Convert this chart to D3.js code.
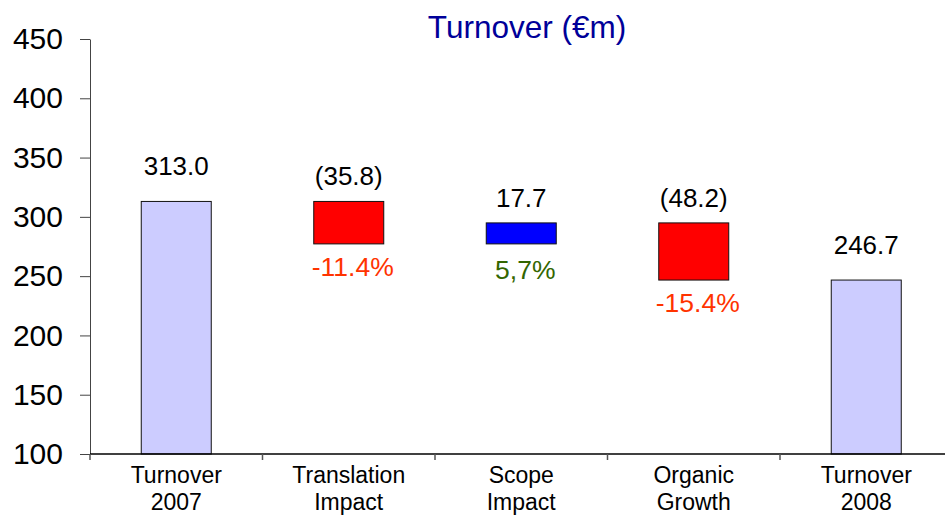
<!DOCTYPE html>
<html>
<head>
<meta charset="utf-8">
<script src="https://cdn.jsdelivr.net/npm/d3@7"></script>
<style>
  html, body { margin: 0; padding: 0; background: #fff; }
  svg { display: block; font-family: "Liberation Sans", Arial, sans-serif; }
</style>
</head>
<body>
<svg id="chart" width="945" height="515"></svg>
<script>
const categories = [["Turnover", "2007"], ["Translation", "Impact"], ["Scope", "Impact"], ["Organic", "Growth"], ["Turnover", "2008"]];
const values = [313.0, -35.8, 17.7, -48.2, 246.7];
const kinds = ["total", "delta", "delta", "delta", "total"];
const valueLabels = ["313.0", "(35.8)", "17.7", "(48.2)", "246.7"];
const pctLabels = [null, "-11.4%", "5,7%", "-15.4%", null];
const yTicks = [100, 150, 200, 250, 300, 350, 400, 450];
const titleText = "Turnover (€m)";

const svg = d3.select("#chart");
const x = d3.scaleBand().domain(d3.range(categories.length)).range([90, 952.5]).padding(0);
const y = d3.scaleLinear().domain([100, 450]).range([454, 39]);
const barW = 70;

// waterfall computation
let running = 0;
const bars = values.map((v, i) => {
  let lo, hi;
  if (kinds[i] === "total") { lo = 100; hi = v; running = v; }
  else { const s = running; running = s + v; lo = Math.min(s, running); hi = Math.max(s, running); }
  return { i, v, lo, hi, kind: kinds[i] };
});
const fillFor = d => d.kind === "total" ? "#CCCCFF" : (d.v < 0 ? "#FF0000" : "#0000FF");

// title
svg.append("text").attr("x", 527).attr("y", 38).attr("text-anchor", "middle")
  .attr("font-size", 31.5).attr("fill", "#000099").text(titleText);

// y axis
const yAxis = d3.axisLeft(y).tickValues(yTicks).tickSize(10).tickSizeOuter(0).tickPadding(17);
const gy = svg.append("g").attr("transform", "translate(90,0)").call(yAxis);
gy.select(".domain").attr("stroke", "#444");
gy.selectAll(".tick line").attr("stroke", "#444");
gy.selectAll(".tick text").attr("font-size", 30).attr("fill", "#000")
  .attr("font-family", "'Liberation Sans', Arial, sans-serif");

// bars
svg.append("g").selectAll("rect").data(bars).join("rect")
  .attr("x", d => x(d.i) + (x.bandwidth() - barW) / 2)
  .attr("y", d => y(d.hi))
  .attr("width", barW)
  .attr("height", d => y(d.lo) - y(d.hi))
  .attr("fill", fillFor)
  .attr("stroke", "#111").attr("stroke-width", 1);

// x axis
svg.append("line").attr("x1", 90).attr("x2", 945).attr("y1", 454).attr("y2", 454)
  .attr("stroke", "#000").attr("stroke-width", 1.5);
svg.append("g").selectAll("line").data(d3.range(categories.length)).join("line")
  .attr("x1", i => x(i)).attr("x2", i => x(i))
  .attr("y1", 454).attr("y2", 460).attr("stroke", "#555").attr("stroke-width", 1.5);

// category labels
const cat = svg.append("g").selectAll("text").data(categories).join("text")
  .attr("text-anchor", "middle").attr("font-size", 23).attr("fill", "#000");
cat.each(function(lines, i) {
  const t = d3.select(this);
  lines.forEach((ln, k) => {
    t.append("tspan").attr("x", x(i) + x.bandwidth() / 2).attr("y", 483 + k * 27).text(ln);
  });
});

// value labels
svg.append("g").selectAll("text").data(bars).join("text")
  .attr("x", d => x(d.i) + x.bandwidth() / 2)
  .attr("y", d => y(d.hi) - (d.kind === "total" ? 26 : 16))
  .attr("text-anchor", "middle").attr("font-size", 26).attr("fill", "#000")
  .text(d => valueLabels[d.i]);

// percentage labels
svg.append("g").selectAll("text").data(bars.filter(d => pctLabels[d.i])).join("text")
  .attr("x", d => x(d.i) + x.bandwidth() / 2 + 4)
  .attr("y", d => y(d.lo) + (d.v < 0 ? 32 : 35))
  .attr("text-anchor", "middle").attr("font-size", 26.5)
  .attr("fill", d => d.v < 0 ? "#FF3300" : "#336600")
  .text(d => pctLabels[d.i]);
</script>
</body>
</html>
